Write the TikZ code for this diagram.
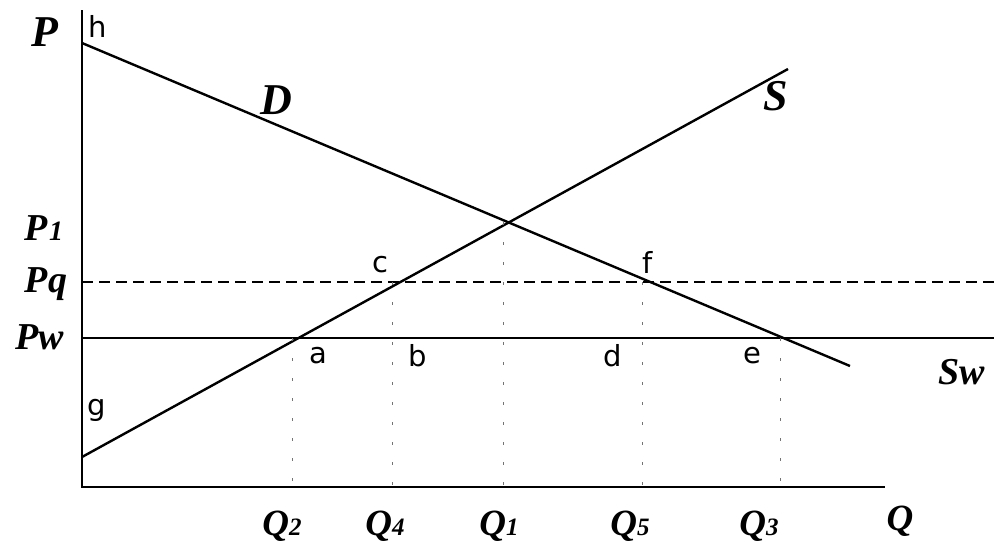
\documentclass[tikz,border=0pt]{standalone}
\usepackage{fontspec}
\setmainfont{Liberation Serif}
\newfontfamily\lblfont{DejaVu Sans}
\begin{document}
\begin{tikzpicture}[x=1pt,y=-1pt,
  axisline/.style={line width=2.8pt,black},
  curve/.style={line width=2.4pt,black},
  priceline/.style={line width=2.2pt,black},
  guide/.style={line width=1.2pt,black!55,dash pattern=on 3pt off 17pt},
  biglab/.style={font=\fontsize{44}{44}\selectfont\bfseries\itshape},
  plab/.style={font=\fontsize{38}{38}\selectfont\bfseries\itshape},
  qlab/.style={font=\fontsize{37}{37}\selectfont\bfseries\itshape},
  ptlab/.style={font=\fontsize{29}{29}\selectfont\lblfont}]
\useasboundingbox[fill=white] (0,0) rectangle (994,544);
% axes
\coordinate (O) at (82,487);
\coordinate (Ytop) at (82,10);
\coordinate (Xend) at (885,487);
\draw[axisline] (Ytop) -- (O) -- (Xend);
% curves
\coordinate (D1) at (82,43);
\coordinate (D2) at (850,366);
\coordinate (S1) at (82,457);
\coordinate (S2) at (788,69);
\draw[curve] (D1) -- (D2);
\draw[curve] (S1) -- (S2);
% price lines
\coordinate (Pq1) at (82,282);
\coordinate (Pq2) at (994,282);
\coordinate (Pw1) at (82,338);
\coordinate (Pw2) at (994,338);
\draw[priceline,dash pattern=on 11pt off 6pt] (Pq1) -- (Pq2);
\draw[priceline] (Pw1) -- (Pw2);
% intersections
\coordinate (A) at (intersection of S1--S2 and Pw1--Pw2);
\coordinate (C) at (intersection of S1--S2 and Pq1--Pq2);
\coordinate (E1) at (intersection of S1--S2 and D1--D2);
\coordinate (F) at (intersection of D1--D2 and Pq1--Pq2);
\coordinate (E) at (intersection of D1--D2 and Pw1--Pw2);
\coordinate (Aq) at (A |- O);
\coordinate (Cq) at (C |- O);
\coordinate (E1q) at (E1 |- O);
\coordinate (Fq) at (F |- O);
\coordinate (Eq) at (E |- O);
\draw[guide] ([xshift=-6pt]A) -- ([xshift=-6pt]Aq);
\draw[guide] ([xshift=-8pt]C) -- ([xshift=-8pt]Cq);
\draw[guide] ([xshift=-5pt]E1) -- ([xshift=-5pt]E1q);
\draw[guide] ([xshift=-8pt]F) -- ([xshift=-8pt]Fq);
\draw[guide] ([xshift=-3pt]E) -- ([xshift=-3pt]Eq);
% axis labels
\node[biglab] (Plab) at (45,32) {P};
\node[biglab] (Dlab) at (276,100) {D};
\node[biglab] (Slab) at (776,96) {S};
\node[plab] (P1lab) at (44,228) {P\kern1pt{\fontsize{28}{28}\selectfont 1}};
\node[plab] (Pqlab) at (46,284) {Pq};
\node[plab] (Pwlab) at (40,337) {Pw};
\node[plab,anchor=west] (Swlab) at (935,372) {Sw};
\node[qlab] (Q2lab) at (282,526) {Q{\fontsize{25}{25}\selectfont 2}};
\node[qlab] (Q4lab) at (385,526) {Q{\fontsize{25}{25}\selectfont 4}};
\node[qlab] (Q1lab) at (499,526) {Q{\fontsize{25}{25}\selectfont 1}};
\node[qlab] (Q5lab) at (630,526) {Q{\fontsize{25}{25}\selectfont 5}};
\node[qlab] (Q3lab) at (759,526) {Q{\fontsize{25}{25}\selectfont 3}};
\node[qlab] (Qlab) at (900,521) {Q};
% point labels
\node[ptlab] (alab) at (318,356) {a};
\node[ptlab] (blab) at (418,356) {b};
\node[ptlab] (clab) at (380,265) {c};
\node[ptlab] (dlab) at (613,356) {d};
\node[ptlab] (elab) at (752,356) {e};
\node[ptlab] (flab) at (648,262) {f};
\node[ptlab] (glab) at (97,410) {g};
\node[ptlab] (hlab) at (98,26) {h};
\end{tikzpicture}
\end{document}
